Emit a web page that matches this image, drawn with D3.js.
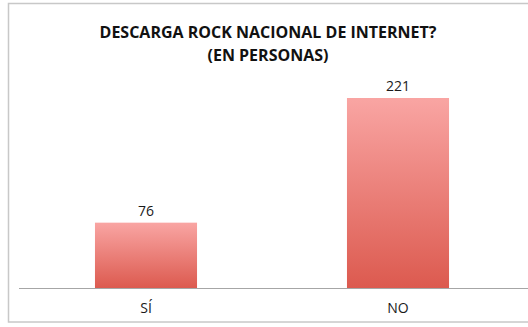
<!DOCTYPE html>
<html>
<head>
<meta charset="utf-8">
<script src="https://cdn.jsdelivr.net/npm/d3@7"></script>
<style>
body { margin: 0; background: #fff; }
svg text { font-family: "Open Sans", "Liberation Sans", sans-serif; }
</style>
</head>
<body>
<svg></svg>
<script>
var categories = ["SÍ", "NO"];
var values = [76, 221];
var titleLines = ["DESCARGA ROCK NACIONAL DE INTERNET?", "(EN PERSONAS)"];

var svgWidth = 528;
var svgHeight = 327;

var baseY = 288;
var plotLeft = 20;
var plotRight = 524;

var svg = d3.select("svg")
    .attr("width", svgWidth)
    .attr("height", svgHeight);

// gradient for the bars
var grad = svg.append("defs").append("linearGradient")
    .attr("id", "barGrad")
    .attr("x1", 0).attr("y1", 0).attr("x2", 0).attr("y2", 1);
grad.append("stop").attr("offset", "0%").attr("stop-color", "#f9a5a3");
grad.append("stop").attr("offset", "100%").attr("stop-color", "#dc5a4f");

// chart frame
svg.append("rect")
    .attr("x", 8.5)
    .attr("y", 3.5)
    .attr("width", 530)
    .attr("height", 318.5)
    .attr("fill", "#fff")
    .attr("stroke", "#c8c8c8")
    .attr("stroke-width", 1.5);

var x = d3.scaleBand()
    .domain(categories)
    .range([plotLeft, plotRight])
    .paddingInner(0.595)
    .paddingOuter(0.2975);

var y = d3.scaleLinear()
    .domain([0, 221])
    .range([baseY, 98]);

svg.selectAll("rect.bar")
    .data(values)
    .enter().append("rect")
    .attr("class", "bar")
    .attr("x", function (d, i) { return x(categories[i]); })
    .attr("y", function (d) { return y(d); })
    .attr("width", x.bandwidth())
    .attr("height", function (d) { return baseY - y(d); })
    .attr("fill", "url(#barGrad)");

// value labels
svg.selectAll("text.val")
    .data(values)
    .enter().append("text")
    .attr("class", "val")
    .attr("x", function (d, i) { return x(categories[i]) + x.bandwidth() / 2; })
    .attr("y", function (d) { return y(d) - 7; })
    .attr("text-anchor", "middle")
    .attr("font-size", 14)
    .attr("fill", "#1a1a1a")
    .text(function (d) { return d; });

// x axis
var xAxis = d3.axisBottom(x).tickSize(0).tickPadding(15);
var gx = svg.append("g")
    .attr("transform", "translate(0," + baseY + ")")
    .call(xAxis);
gx.select(".domain").remove();
gx.append("line")
    .attr("x1", 19).attr("x2", 528)
    .attr("y1", 0.5).attr("y2", 0.5)
    .attr("stroke", "#a6a6a6")
    .attr("stroke-width", 1);
gx.selectAll("text")
    .attr("font-size", 14)
    .attr("fill", "#1a1a1a");

// title
svg.append("g").selectAll("text")
    .data(titleLines)
    .enter().append("text")
    .attr("x", 268)
    .attr("y", function (d, i) { return 38 + i * 23; })
    .attr("text-anchor", "middle")
    .attr("font-size", 16)
    .attr("font-weight", "bold")
    .attr("fill", "#111")
    .text(function (d) { return d; });
</script>
</body>
</html>
